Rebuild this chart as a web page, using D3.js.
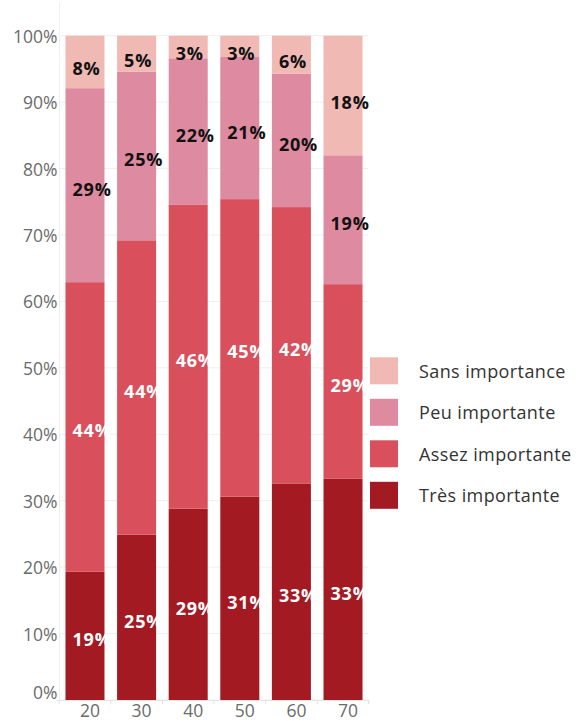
<!DOCTYPE html>
<html>
<head>
<meta charset="utf-8">
<script src="https://cdn.jsdelivr.net/npm/d3@7"></script>
<style>
  html, body { margin: 0; padding: 0; background: #fff; }
  svg { display: block; font-family: "Open Sans", sans-serif; }
</style>
</head>
<body>
<svg id="chart" width="585" height="721"></svg>
<script>
// ---- data ----
const categories = ["20", "30", "40", "50", "60", "70"];
const seriesNames = ["Très importante", "Assez importante", "Peu importante", "Sans importance"];
const tresImportante  = [19.3, 24.9, 28.8, 30.6, 32.6, 33.3];
const assezImportante = [43.6, 44.3, 45.8, 44.8, 41.6, 29.3];
const peuImportante   = [29.2, 25.4, 22.0, 21.4, 20.1, 19.4];
const sansImportance  = [7.9, 5.4, 3.4, 3.2, 5.7, 18.0];
const yTicks = [0, 10, 20, 30, 40, 50, 60, 70, 80, 90, 100];
const colors = ["#a31a23", "#d9505c", "#de8aa0", "#f0b9b4"];
const labelColors = ["#ffffff", "#ffffff", "#111111", "#111111"];

const seriesValues = [tresImportante, assezImportante, peuImportante, sansImportance];
const rows = categories.map((c, i) => {
  const r = { cat: c };
  seriesNames.forEach((s, j) => r[s] = seriesValues[j][i]);
  return r;
});

const svg = d3.select("#chart");

const x = d3.scaleBand().domain(categories).range([59.5, 368.5])
  .paddingInner(0.244).paddingOuter(0.116);
const y = d3.scaleLinear().domain([0, 100]).range([700, 35.7]);

// gridlines
svg.append("g").selectAll("line").data(yTicks).join("line")
  .attr("x1", 59.5).attr("x2", 368.5)
  .attr("y1", d => y(d)).attr("y2", d => y(d))
  .attr("stroke", "#efefef").attr("stroke-width", 1);

// left axis line
svg.append("line").attr("x1", 59.5).attr("x2", 59.5).attr("y1", 3).attr("y2", 700)
  .attr("stroke", "#efefef");

// y labels
svg.append("g").selectAll("text").data(yTicks).join("text")
  .attr("x", 57.5).attr("y", d => y(d) + (d === 0 ? -8 : 0))
  .attr("text-anchor", "end").attr("dominant-baseline", "central")
  .attr("fill", "#6b6b6b").attr("font-size", 17.5)
  .text(d => d + "%");

// stacked bars
const stack = d3.stack().keys(seriesNames)(rows);
const layers = svg.append("g").selectAll("g").data(stack).join("g")
  .attr("fill", (d, i) => colors[i]);
layers.selectAll("rect").data(d => d).join("rect")
  .attr("x", d => x(d.data.cat))
  .attr("width", x.bandwidth())
  .attr("y", d => y(d[1]))
  .attr("height", d => y(d[0]) - y(d[1]));

// value labels
const fmt = d3.format(".0f");
stack.forEach((layer, i) => {
  svg.append("g").selectAll("text").data(layer).join("text")
    .attr("x", d => x(d.data.cat) + 7)
    .attr("y", d => (y(d[0]) + y(d[1])) / 2 + (i === 3 ? 6.5 : 3.5))
    .attr("dominant-baseline", "central")
    .attr("fill", labelColors[i])
    .attr("font-size", 18).attr("font-weight", 700)
    .attr("letter-spacing", 0.8)
    .text(d => fmt(d[1] - d[0]) + "%");
});

// bottom axis
svg.append("line").attr("x1", 56).attr("x2", 369).attr("y1", 700.5).attr("y2", 700.5)
  .attr("stroke", "#e6e6e6");
const tickXs = categories.map(c => x(c) - x.step() * x.paddingInner() / 2)
  .concat([x(categories[categories.length - 1]) + x.bandwidth() + x.step() * x.paddingInner() / 2]);
svg.append("g").selectAll("line").data(tickXs).join("line")
  .attr("x1", d => d).attr("x2", d => d).attr("y1", 700).attr("y2", 704)
  .attr("stroke", "#e0e0e0");
svg.append("g").selectAll("text").data(categories).join("text")
  .attr("x", d => x(d) + x.bandwidth() / 2 + 5)
  .attr("y", 717)
  .attr("text-anchor", "middle")
  .attr("fill", "#6b6b6b").attr("font-size", 17.5)
  .text(d => d);

// legend
const legendOrder = [3, 2, 1, 0];
const lg = svg.append("g").selectAll("g").data(legendOrder).join("g")
  .attr("transform", (d, i) => `translate(370, ${357.3 + i * 41.5})`);
lg.append("rect").attr("width", 28).attr("height", 27).attr("fill", d => colors[d]);
lg.append("text").attr("x", 49).attr("y", 13.5)
  .attr("dominant-baseline", "central")
  .attr("fill", "#333").attr("font-size", 18)
  .attr("letter-spacing", 0.4)
  .text(d => seriesNames[d]);
</script>
</body>
</html>
